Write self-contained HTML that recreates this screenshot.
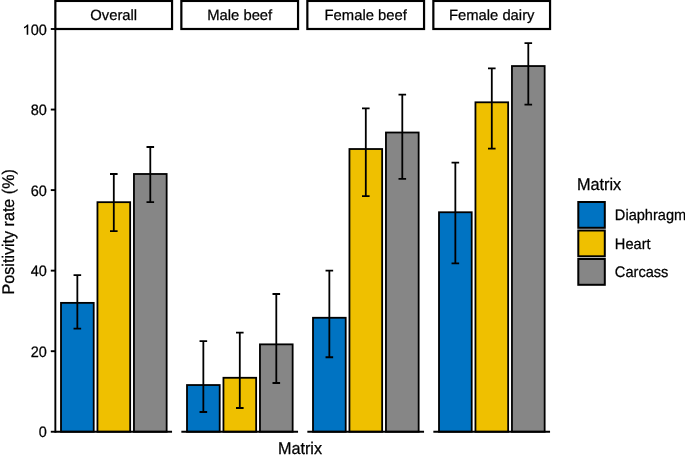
<!DOCTYPE html><html><head><meta charset="utf-8"><style>html,body{margin:0;padding:0;background:#fff;}svg{display:block;will-change:transform;}text{font-family:"Liberation Sans",sans-serif;fill:#000;text-rendering:geometricPrecision;stroke:#000;stroke-width:0.25px;}</style></head><body>
<svg width="685" height="459" viewBox="0 0 685 459">
<rect x="0" y="0" width="685" height="459" fill="#fff"/>
<rect x="61.00" y="302.87" width="32.70" height="128.88" fill="#0073C2" stroke="#000" stroke-width="1.8"/>
<rect x="97.45" y="202.18" width="32.70" height="229.57" fill="#EFC000" stroke="#000" stroke-width="1.8"/>
<rect x="133.95" y="173.99" width="32.70" height="257.76" fill="#868686" stroke="#000" stroke-width="1.8"/>
<path d="M77.35 328.65V275.08M73.55 275.08H81.15M73.55 328.65H81.15" stroke="#000" stroke-width="1.8" fill="none"/>
<path d="M113.80 231.18V173.99M110.00 173.99H117.60M110.00 231.18H117.60" stroke="#000" stroke-width="1.8" fill="none"/>
<path d="M150.30 202.18V147.01M146.50 147.01H154.10M146.50 202.18H154.10" stroke="#000" stroke-width="1.8" fill="none"/>
<path d="M55.35 431.75H172.05" stroke="#000" stroke-width="1.9"/>
<rect x="55.35" y="0.95" width="116.70" height="28.05" fill="#fff" stroke="#000" stroke-width="2.2"/>
<text transform="translate(113.70,19.80) scale(1,1.0)" font-size="14.8" text-anchor="middle">Overall</text>
<rect x="187.00" y="385.03" width="32.70" height="46.72" fill="#0073C2" stroke="#000" stroke-width="1.8"/>
<rect x="223.45" y="377.78" width="32.70" height="53.97" fill="#EFC000" stroke="#000" stroke-width="1.8"/>
<rect x="259.95" y="344.35" width="32.70" height="87.40" fill="#868686" stroke="#000" stroke-width="1.8"/>
<path d="M203.35 412.02V341.13M199.55 341.13H207.15M199.55 412.02H207.15" stroke="#000" stroke-width="1.8" fill="none"/>
<path d="M239.80 407.99V332.67M236.00 332.67H243.60M236.00 407.99H243.60" stroke="#000" stroke-width="1.8" fill="none"/>
<path d="M276.30 383.02V294.01M272.50 294.01H280.10M272.50 383.02H280.10" stroke="#000" stroke-width="1.8" fill="none"/>
<path d="M181.35 431.75H298.05" stroke="#000" stroke-width="1.9"/>
<rect x="181.35" y="0.95" width="116.70" height="28.05" fill="#fff" stroke="#000" stroke-width="2.2"/>
<text transform="translate(239.70,19.80) scale(1,1.0)" font-size="14.8" text-anchor="middle">Male beef</text>
<rect x="313.00" y="317.77" width="32.70" height="113.98" fill="#0073C2" stroke="#000" stroke-width="1.8"/>
<rect x="349.45" y="149.02" width="32.70" height="282.73" fill="#EFC000" stroke="#000" stroke-width="1.8"/>
<rect x="385.95" y="132.51" width="32.70" height="299.24" fill="#868686" stroke="#000" stroke-width="1.8"/>
<path d="M329.35 357.24V270.65M325.55 270.65H333.15M325.55 357.24H333.15" stroke="#000" stroke-width="1.8" fill="none"/>
<path d="M365.80 196.14V108.34M362.00 108.34H369.60M362.00 196.14H369.60" stroke="#000" stroke-width="1.8" fill="none"/>
<path d="M402.30 178.82V94.65M398.50 94.65H406.10M398.50 178.82H406.10" stroke="#000" stroke-width="1.8" fill="none"/>
<path d="M307.35 431.75H424.05" stroke="#000" stroke-width="1.9"/>
<rect x="307.35" y="0.95" width="116.70" height="28.05" fill="#fff" stroke="#000" stroke-width="2.2"/>
<text transform="translate(365.70,19.80) scale(1,1.0)" font-size="14.8" text-anchor="middle">Female beef</text>
<rect x="439.00" y="212.25" width="32.70" height="219.50" fill="#0073C2" stroke="#000" stroke-width="1.8"/>
<rect x="475.45" y="102.30" width="32.70" height="329.45" fill="#EFC000" stroke="#000" stroke-width="1.8"/>
<rect x="511.95" y="66.05" width="32.70" height="365.70" fill="#868686" stroke="#000" stroke-width="1.8"/>
<path d="M455.35 263.40V162.71M451.55 162.71H459.15M451.55 263.40H459.15" stroke="#000" stroke-width="1.8" fill="none"/>
<path d="M491.80 148.62V68.47M488.00 68.47H495.60M488.00 148.62H495.60" stroke="#000" stroke-width="1.8" fill="none"/>
<path d="M528.30 104.72V43.10M524.50 43.10H532.10M524.50 104.72H532.10" stroke="#000" stroke-width="1.8" fill="none"/>
<path d="M433.35 431.75H550.05" stroke="#000" stroke-width="1.9"/>
<rect x="433.35" y="0.95" width="116.70" height="28.05" fill="#fff" stroke="#000" stroke-width="2.2"/>
<text transform="translate(491.70,19.80) scale(1,1.0)" font-size="14.8" text-anchor="middle">Female dairy</text>
<path d="M55.35 29.00V432.70" stroke="#000" stroke-width="1.9"/>
<path d="M50.80 431.75H55.35" stroke="#000" stroke-width="1.9"/>
<text transform="translate(46.90,437.35) scale(1,1.045)" font-size="14.5" text-anchor="end">0</text>
<path d="M50.80 351.20H55.35" stroke="#000" stroke-width="1.9"/>
<text transform="translate(46.90,356.80) scale(1,1.045)" font-size="14.5" text-anchor="end">20</text>
<path d="M50.80 270.65H55.35" stroke="#000" stroke-width="1.9"/>
<text transform="translate(46.90,276.25) scale(1,1.045)" font-size="14.5" text-anchor="end">40</text>
<path d="M50.80 190.10H55.35" stroke="#000" stroke-width="1.9"/>
<text transform="translate(46.90,195.70) scale(1,1.045)" font-size="14.5" text-anchor="end">60</text>
<path d="M50.80 109.55H55.35" stroke="#000" stroke-width="1.9"/>
<text transform="translate(46.90,115.15) scale(1,1.045)" font-size="14.5" text-anchor="end">80</text>
<path d="M50.80 29.00H55.35" stroke="#000" stroke-width="1.9"/>
<text transform="translate(46.90,34.60) scale(1,1.045)" font-size="14.5" text-anchor="end">00</text>
<path d="M28.25 24.45V34.7H26.7V26.75C25.95 27.5 25.0 28.05 24.0 28.4V26.95C25.3 26.4 26.4 25.5 27.2 24.45Z" fill="#000"/>
<text transform="translate(300.00,453.80) scale(1,1.045)" font-size="16.2" text-anchor="middle">Matrix</text>
<text transform="translate(13.90,231.80) rotate(-90) scale(1,1.045)" font-size="16.1" text-anchor="middle">Positivity rate (%)</text>
<text transform="translate(576.90,189.90) scale(1,1.045)" font-size="16.3">Matrix</text>
<rect x="578.3" y="202.00" width="26.5" height="25.8" fill="#0073C2" stroke="#000" stroke-width="2.0"/>
<text transform="translate(614.86,220.30) scale(1,1.045)" font-size="14.6">Diaphragm</text>
<rect x="578.3" y="230.50" width="26.5" height="25.8" fill="#EFC000" stroke="#000" stroke-width="2.0"/>
<text transform="translate(614.86,248.80) scale(1,1.045)" font-size="14.6">Heart</text>
<rect x="578.3" y="259.00" width="26.5" height="25.8" fill="#868686" stroke="#000" stroke-width="2.0"/>
<text transform="translate(614.86,277.30) scale(1,1.045)" font-size="14.6">Carcass</text>
</svg></body></html>
